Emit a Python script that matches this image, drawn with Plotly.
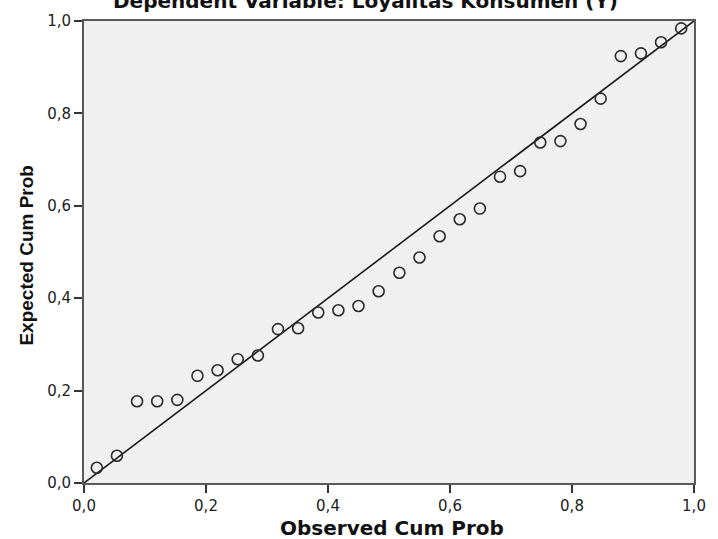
import plotly.graph_objects as go

# Observed cumulative probability (x) and expected cumulative probability (y)
observed_cum_prob = [0.021, 0.054, 0.087, 0.120, 0.153, 0.186, 0.219, 0.252, 0.285, 0.318,
                     0.351, 0.384, 0.417, 0.450, 0.483, 0.517, 0.550, 0.583, 0.616, 0.649,
                     0.682, 0.715, 0.748, 0.781, 0.814, 0.847, 0.880, 0.913, 0.946, 0.979]
expected_cum_prob = [0.033, 0.059, 0.177, 0.177, 0.180, 0.232, 0.244, 0.268, 0.276, 0.333,
                     0.335, 0.369, 0.374, 0.383, 0.415, 0.455, 0.488, 0.534, 0.571, 0.594,
                     0.663, 0.675, 0.737, 0.740, 0.777, 0.832, 0.924, 0.930, 0.954, 0.984]

ref_line = [0.0, 1.0]
tick_vals = [0.0, 0.2, 0.4, 0.6, 0.8, 1.0]
tick_text = ["0,0", "0,2", "0,4", "0,6", "0,8", "1,0"]

title_text = "Dependent Variable: Loyalitas Konsumen (Y)"
x_title = "Observed Cum Prob"
y_title = "Expected Cum Prob"

fig = go.Figure()
fig.add_trace(go.Scatter(x=ref_line, y=ref_line, mode="lines",
                         line=dict(color="#1a1a1a", width=1.6), hoverinfo="skip",
                         showlegend=False))
fig.add_trace(go.Scatter(x=observed_cum_prob, y=expected_cum_prob, mode="markers",
                         marker=dict(symbol="circle-open", size=11, color="#2a2a2a",
                                     line=dict(color="#2a2a2a", width=1.6)),
                         showlegend=False))

axis_common = dict(range=[0, 1], tickvals=tick_vals, ticktext=tick_text,
                   showgrid=False, zeroline=False, showline=True, mirror=True,
                   linecolor="#5a5a5a", linewidth=2, ticks="outside", ticklen=8,
                   tickwidth=1.6, tickcolor="#333333",
                   tickfont=dict(family="DejaVu Sans", size=15, color="#222222"))

fig.update_layout(
    width=718, height=539,
    margin=dict(l=84, r=14, t=13, b=56),
    paper_bgcolor="white", plot_bgcolor="#F0F0F0",
    xaxis=axis_common, yaxis=axis_common,
    annotations=[
        dict(text="<b>" + title_text + "</b>", xref="paper", yref="paper",
             x=0.461, y=1.0135, xanchor="center", yanchor="bottom", showarrow=False,
             font=dict(family="DejaVu Sans", size=20, color="#111111")),
        dict(text="<b>" + x_title + "</b>", xref="paper", yref="paper",
             x=0.505, y=-0.0975, xanchor="center", yanchor="middle", showarrow=False,
             font=dict(family="DejaVu Sans", size=20, color="#111111")),
        dict(text="<b>" + y_title + "</b>", xref="paper", yref="paper",
             x=-0.0945, y=0.493, xanchor="center", yanchor="middle", showarrow=False,
             textangle=-90,
             font=dict(family="Liberation Sans", size=19, color="#111111")),
    ],
)

fig.write_html("out.html")
